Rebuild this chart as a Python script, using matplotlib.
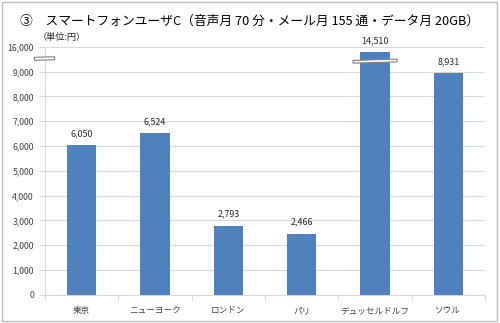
import matplotlib
matplotlib.use("Agg")
import numpy as np
import matplotlib.pyplot as plt
from matplotlib.patches import Polygon, Rectangle
from matplotlib.ticker import FixedLocator, FuncFormatter

plt.rcParams['font.family'] = ['Noto Sans CJK JP', 'DejaVu Sans']

cities = ['東京', 'ニューヨーク', 'ロンドン', 'パリ', 'デュッセルドルフ', 'ソウル']
costs = [6050, 6524, 2793, 2466, 14510, 8931]
tick_values = [0, 1000, 2000, 3000, 4000, 5000, 6000, 7000, 8000, 9000, 16000]

title = '③　スマートフォンユーザC（音声月 70 分・メール月 155 通・データ月 20GB）'
unit = '（単位:円）'

BREAK = 9000.0
SQUEEZE = 7.0


def fwd(v):
    v = np.asarray(v, dtype=float)
    return np.where(v <= BREAK, v, BREAK + (v - BREAK) / SQUEEZE)


def inv(v):
    v = np.asarray(v, dtype=float)
    return np.where(v <= BREAK, v, BREAK + (v - BREAK) * SQUEEZE)


fig = plt.figure(figsize=(5.0, 3.23), dpi=100)
fig.patch.set_facecolor('white')
fig.patches.append(Rectangle((0.004, 0.006), 0.99, 0.988, transform=fig.transFigure,
                             fill=False, edgecolor='#BFBFBF', linewidth=1.0))

ax = fig.add_axes([0.09, 0.087, 0.88, 0.768])
ax.set_yscale('function', functions=(fwd, inv))

x = range(len(cities))
bar_color = '#4F81BD'
ax.bar(x, costs, width=0.4, color=bar_color, zorder=3)

ax.set_ylim(0, 16000)
ax.set_xlim(-0.5, len(cities) - 0.5)
ax.yaxis.set_major_locator(FixedLocator(tick_values))
ax.yaxis.set_major_formatter(FuncFormatter(lambda v, p: f'{int(round(v)):,}'))
ax.yaxis.grid(True, color='#D9D9D9', linewidth=0.8, zorder=0)
ax.set_axisbelow(True)

for s in ['top', 'right']:
    ax.spines[s].set_visible(False)
ax.spines['left'].set_color('#D9D9D9')
ax.spines['bottom'].set_color('#D9D9D9')

ax.set_xticks(list(x))
ax.set_xticklabels(cities, fontsize=6.2, color='#404040')
ax.xaxis.set_minor_locator(FixedLocator([i + 0.5 for i in range(-1, len(cities))]))
ax.tick_params(axis='x', which='major', length=0, pad=8)
ax.tick_params(axis='x', which='minor', length=4, color='#D9D9D9')
ax.tick_params(axis='y', labelsize=6.3, labelcolor='#404040', length=4,
               color='#D9D9D9', pad=4)

for i, v in enumerate(costs):
    ax.annotate(f'{v:,}', (i, v), xytext=(0, 5), textcoords='offset points',
                ha='center', va='bottom', fontsize=6.4, color='#262626')

# axis break markers
ytr = ax.get_yaxis_transform()
brk_axis = Polygon([(-0.024, 13050), (0.022, 13200), (0.022, 12350), (-0.024, 12200)],
                   closed=True, transform=ytr, facecolor='white',
                   edgecolor='#7F7F7F', linewidth=0.8, clip_on=False, zorder=5)
ax.add_patch(brk_axis)
i_b = cities.index('デュッセルドルフ')
brk_bar = Polygon([(i_b - 0.30, 12150), (i_b + 0.30, 12550),
                   (i_b + 0.30, 11750), (i_b - 0.30, 11400)],
                  closed=True, facecolor='white', edgecolor='#7F7F7F',
                  linewidth=0.8, clip_on=False, zorder=5)
ax.add_patch(brk_bar)

fig.text(0.04, 0.935, title, fontsize=9.2, color='#000000', va='center', ha='left')
fig.text(0.075, 0.885, unit, fontsize=6.6, color='#262626', va='center', ha='left')

fig.savefig('out.png', dpi=100, facecolor='white')
